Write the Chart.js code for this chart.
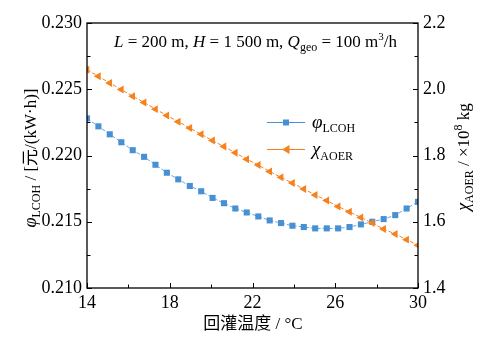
<!DOCTYPE html>
<html>
<head>
<meta charset="utf-8">
<script src="https://cdn.jsdelivr.net/npm/chart.js"></script>
<style>
  html, body { margin: 0; padding: 0; background: #fff; }
  #wrap { width: 487px; height: 344px; }
</style>
</head>
<body>
<div id="wrap"><canvas id="c" width="487" height="344"></canvas></div>
<script>
// 回灌温度 (°C)
const temps = [14.00, 14.55, 15.10, 15.66, 16.21, 16.76, 17.31, 17.86, 18.41, 18.97,
               19.52, 20.07, 20.62, 21.17, 21.72, 22.28, 22.83, 23.38, 23.93, 24.48,
               25.03, 25.59, 26.14, 26.69, 27.24, 27.79, 28.34, 28.90, 29.45, 30.00];
// φLCOH, 元/(kW·h)
const lcoh = [0.2228, 0.2222, 0.2216, 0.2210, 0.2204, 0.2199, 0.2193, 0.2187, 0.2182, 0.2177,
              0.2173, 0.2168, 0.2164, 0.2160, 0.2157, 0.2154, 0.2151, 0.2149, 0.2147, 0.2146,
              0.2145, 0.2145, 0.2145, 0.2146, 0.2148, 0.2150, 0.2152, 0.2155, 0.2160, 0.2165];
// χAOER, ×10^8 kg
const aoer = [2.059, 2.039, 2.019, 1.999, 1.979, 1.960, 1.940, 1.921, 1.902, 1.883,
              1.864, 1.845, 1.827, 1.808, 1.789, 1.771, 1.752, 1.734, 1.717, 1.699,
              1.681, 1.664, 1.646, 1.630, 1.613, 1.596, 1.578, 1.563, 1.546, 1.529];
const xTicks = [14, 18, 22, 26, 30];
const yLeftTicks = [0.210, 0.215, 0.220, 0.225, 0.230];
const yRightTicks = [1.4, 1.6, 1.8, 2.0, 2.2];

const BLUE = '#4790d3';
const ORANGE = '#f5821f';
const SERIF = "'Liberation Serif', 'Times New Roman', 'Noto Sans CJK SC', serif";

function font(size, italic){ return (italic ? 'italic ' : '') + size + 'px ' + SERIF; }

// draw a run of text pieces (sub/superscripts, italics)
function rich(ctx, segs, x, y, align) {
  let w = 0;
  segs.forEach(s => { ctx.font = font(s.size, s.it); w += ctx.measureText(s.t).width; });
  let cx = align === 'center' ? x - w / 2 : x;
  ctx.textAlign = 'left';
  ctx.textBaseline = 'alphabetic';
  segs.forEach(s => {
    ctx.font = font(s.size, s.it);
    ctx.fillText(s.t, cx, y + (s.dy || 0));
    cx += ctx.measureText(s.t).width;
  });
}

const decor = {
  id: 'decor',
  afterDraw(chart) {
    const ctx = chart.ctx;
    const a = chart.chartArea;
    const sx = chart.scales.x, sl = chart.scales.yL, sr = chart.scales.yR;
    ctx.save();
    ctx.strokeStyle = '#000';
    ctx.fillStyle = '#000';
    ctx.lineWidth = 1.3;
    ctx.strokeRect(a.left, a.top, a.right - a.left, a.bottom - a.top);

    // inward ticks, major + minor
    ctx.lineWidth = 1;
    ctx.beginPath();
    for (let v = 14; v <= 30; v += 2) {
      const p = Math.round(sx.getPixelForValue(v)) + 0.5;
      const len = (v - 14) % 4 === 0 ? 5 : 3.5;
      ctx.moveTo(p, a.bottom); ctx.lineTo(p, a.bottom - len);
    }
    for (let i = 0; i <= 8; i++) {
      const p = Math.round(sl.getPixelForValue(0.210 + i * 0.0025)) + 0.5;
      const len = i % 2 === 0 ? 5 : 3.5;
      ctx.moveTo(a.left, p); ctx.lineTo(a.left + len, p);
      const q = Math.round(sr.getPixelForValue(1.4 + i * 0.1)) + 0.5;
      ctx.moveTo(a.right, q); ctx.lineTo(a.right - len, q);
    }
    ctx.stroke();

    // condition note
    rich(ctx, [
      {t: 'L', size: 17, it: true}, {t: ' = 200 m, ', size: 17},
      {t: 'H', size: 17, it: true}, {t: ' = 1 500 m, ', size: 17},
      {t: 'Q', size: 17, it: true}, {t: 'geo', size: 12, dy: 4},
      {t: ' = 100 m', size: 17}, {t: '3', size: 11, dy: -7}, {t: '/h', size: 17}
    ], 255.5, 47, 'center');

    // legend
    ctx.lineWidth = 1.2;
    ctx.strokeStyle = BLUE;
    ctx.beginPath(); ctx.moveTo(267, 122.5); ctx.lineTo(305, 122.5); ctx.stroke();
    ctx.fillStyle = BLUE;
    ctx.fillRect(283, 119.5, 6, 6);
    ctx.strokeStyle = ORANGE;
    ctx.beginPath(); ctx.moveTo(267, 149.5); ctx.lineTo(305, 149.5); ctx.stroke();
    ctx.fillStyle = ORANGE;
    ctx.beginPath(); ctx.moveTo(282, 149.5); ctx.lineTo(289.5, 145); ctx.lineTo(289.5, 154); ctx.closePath(); ctx.fill();
    ctx.fillStyle = '#000';
    rich(ctx, [{t: 'φ', size: 19, it: true}, {t: 'LCOH', size: 12, dy: 4}], 312, 128, 'left');
    rich(ctx, [{t: 'χ', size: 19, it: true}, {t: 'AOER', size: 12, dy: 5}], 312, 155, 'left');

    // axis titles
    ctx.font = '17px ' + SERIF;
    ctx.textAlign = 'center';
    ctx.textBaseline = 'middle';
    ctx.fillText('回灌温度 / °C', 253, 325);

    ctx.save();
    ctx.translate(36, 158);
    ctx.rotate(-Math.PI / 2);
    rich(ctx, [{t: 'φ', size: 18, it: true}, {t: 'LCOH', size: 12, dy: 4},
               {t: ' / [元/(kW·h)]', size: 17}], 0, 0, 'center');
    ctx.restore();

    ctx.save();
    ctx.translate(469, 157);
    ctx.rotate(-Math.PI / 2);
    rich(ctx, [{t: 'χ', size: 18, it: true}, {t: 'AOER', size: 12, dy: 4},
               {t: ' / ×10', size: 17}, {t: '8', size: 12, dy: -7}, {t: ' kg', size: 17}], 0, 0, 'center');
    ctx.restore();
    ctx.restore();
  }
};

const tickFont = { family: SERIF, size: 18 };

new Chart(document.getElementById('c').getContext('2d'), {
  type: 'line',
  data: {
    datasets: [
      {
        label: 'χAOER',
        data: temps.map((t, i) => ({ x: t, y: aoer[i] })),
        yAxisID: 'yR',
        borderColor: ORANGE, borderWidth: 1, borderDash: [4, 2],
        pointStyle: 'triangle', pointRotation: -90, pointRadius: 4.6,
        pointBackgroundColor: ORANGE, pointBorderWidth: 0, tension: 0
      },
      {
        label: 'φLCOH',
        data: temps.map((t, i) => ({ x: t, y: lcoh[i] })),
        yAxisID: 'yL',
        borderColor: '#6aa6dd', borderWidth: 1, borderDash: [4, 2],
        pointStyle: 'rect', pointRadius: 4.3,
        pointBackgroundColor: BLUE, pointBorderWidth: 0, tension: 0
      }
    ]
  },
  options: {
    responsive: false,
    animation: false,
    layout: { padding: { top: 23, left: 0, right: 0, bottom: 0 } },
    plugins: { legend: { display: false }, tooltip: { enabled: false } },
    scales: {
      x: {
        type: 'linear', min: 14, max: 30,
        afterBuildTicks: s => { s.ticks = xTicks.map(v => ({ value: v })); },
        afterFit: s => { s.height = 56; },
        grid: { display: false, drawTicks: false }, border: { display: false },
        ticks: { color: '#000', font: tickFont, padding: 4, maxRotation: 0 }
      },
      yL: {
        position: 'left', min: 0.210, max: 0.230,
        afterBuildTicks: s => { s.ticks = yLeftTicks.map(v => ({ value: v })); },
        afterFit: s => { s.width = 87; },
        grid: { display: false, drawTicks: false }, border: { display: false },
        ticks: { color: '#000', font: tickFont, padding: 5, callback: v => Number(v).toFixed(3) }
      },
      yR: {
        position: 'right', min: 1.4, max: 2.2,
        afterBuildTicks: s => { s.ticks = yRightTicks.map(v => ({ value: v })); },
        afterFit: s => { s.width = 69; },
        grid: { display: false, drawTicks: false }, border: { display: false },
        ticks: { color: '#000', font: tickFont, padding: 5, callback: v => Number(v).toFixed(1) }
      }
    }
  },
  plugins: [decor]
});
</script>
</body>
</html>
